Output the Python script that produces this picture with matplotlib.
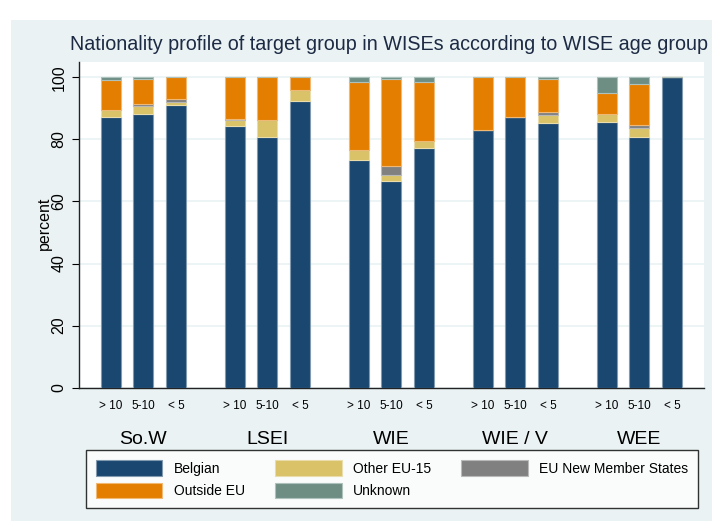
import numpy as np
import matplotlib
matplotlib.use("Agg")
import matplotlib.pyplot as plt
from matplotlib.patches import Rectangle, Patch
import matplotlib.transforms as mtransforms

plt.rcParams['font.family'] = ['Liberation Sans', 'DejaVu Sans']

# data (percent), order: for each WISE type the three age groups
groups = ['So.W', 'LSEI', 'WIE', 'WIE / V', 'WEE']
ages = ['> 10', '5-10', '< 5']

belgian = [87.1, 88.2, 91.2, 84.4, 80.8, 92.5, 73.4, 66.5, 77.2, 83.0, 87.1, 85.2, 85.7, 80.9, 100.0]
other_eu = [2.4, 2.6, 0.9, 1.7, 5.3, 3.4, 3.0, 2.0, 2.3, 0.0, 0.0, 2.7, 2.4, 2.8, 0.0]
new_ms = [0.0, 0.6, 0.8, 0.3, 0.0, 0.0, 0.0, 3.0, 0.0, 0.0, 0.0, 0.9, 0.0, 0.8, 0.0]
outside_eu = [9.6, 8.1, 7.1, 13.6, 13.9, 4.1, 22.1, 28.0, 18.8, 17.0, 12.9, 10.7, 6.9, 13.3, 0.0]
unknown = [0.9, 0.5, 0.0, 0.0, 0.0, 0.0, 1.5, 0.5, 1.7, 0.0, 0.0, 0.5, 5.0, 2.2, 0.0]

series = [('Belgian', belgian, '#1a476f'),
          ('Other EU-15', other_eu, '#d9c267'),
          ('EU New Member States', new_ms, '#808080'),
          ('Outside EU', outside_eu, '#e37e00'),
          ('Unknown', unknown, '#6e8e84')]

bg = '#eaf2f3'
gap = 3.8  # distance between groups, in bar units

fig = plt.figure(figsize=(7.12, 5.21), dpi=100)
fig.patch.set_facecolor('white')
fig.patches.append(Rectangle((11 / 712, 0), 1, 1 - 20 / 521, transform=fig.transFigure,
                             facecolor=bg, edgecolor='none', zorder=-10))

ax = fig.add_axes([79 / 712, 1 - 387.7 / 521, (704 - 79) / 712, (387.7 - 62) / 521])
ax.set_facecolor('white')

x = np.array([g * gap + i for g in range(len(groups)) for i in range(len(ages))], dtype=float)

def lighten(c, f=0.45):
    r, g, b = matplotlib.colors.to_rgb(c)
    return (r + (1 - r) * f, g + (1 - g) * f, b + (1 - b) * f)

bottom = np.zeros(len(x))
handles = {}
for name, vals, col in series:
    vals = np.array(vals)
    ax.bar(x, vals, width=0.61, bottom=bottom, color=col, edgecolor=lighten(col),
           linewidth=0.8, zorder=3)
    bottom += vals
    handles[name] = Patch(facecolor=col, edgecolor=lighten(col), linewidth=0.8)

ax.set_xlim(x[0] - 0.97, x[-1] + 0.98)
ax.set_ylim(0, 104.9)
ax.set_yticks([0, 20, 40, 60, 80, 100])
ax.set_yticklabels(['0', '20', '40', '60', '80', '100'], rotation=90, va='center', fontsize=11.5)
ax.yaxis.grid(True, color=bg, linewidth=1.2, zorder=0)
ax.set_axisbelow(True)
ax.tick_params(axis='y', length=5, width=0.8, pad=4)
ax.set_xticks(x)
ax.set_xticklabels(ages * len(groups), fontsize=8.5)
ax.tick_params(axis='x', length=0, pad=9)
for s in ['top', 'right']:
    ax.spines[s].set_visible(False)
for s in ['left', 'bottom']:
    ax.spines[s].set_linewidth(1.0)
    ax.spines[s].set_color('#222222')

trans = mtransforms.blended_transform_factory(ax.transData, fig.transFigure)
for g, name in enumerate(groups):
    ax.text(g * gap + 1, 1 - 440 / 521, name, transform=trans, ha='center', va='center',
            fontsize=14)

fig.text(44 / 712, 1 - 223 / 521, 'percent', rotation=90, ha='center', va='center', fontsize=11.5)
fig.text(70 / 712, 1 - 45 / 521, 'Nationality profile of target group in WISEs according to WISE age group',
         ha='left', va='center', fontsize=14.2, color='#1c2a44')

order = ['Belgian', 'Outside EU', 'Other EU-15', 'Unknown', 'EU New Member States']
lx0, lx1, ly0, ly1 = 86 / 712, 698 / 712, 1 - 508 / 521, 1 - 449 / 521
leg = fig.legend([handles[n] for n in order], order, ncol=3, loc='lower left',
                 bbox_to_anchor=(lx0, ly0, lx1 - lx0, ly1 - ly0), mode='expand',
                 borderaxespad=0, fontsize=10, frameon=True, fancybox=False, edgecolor='black',
                 handlelength=4.8, handleheight=1.35, handletextpad=0.8,
                 columnspacing=2.4, labelspacing=0.5, borderpad=0.7)
leg.get_frame().set_linewidth(1.0)

fig.savefig('out.png', dpi=100, facecolor=fig.get_facecolor())
